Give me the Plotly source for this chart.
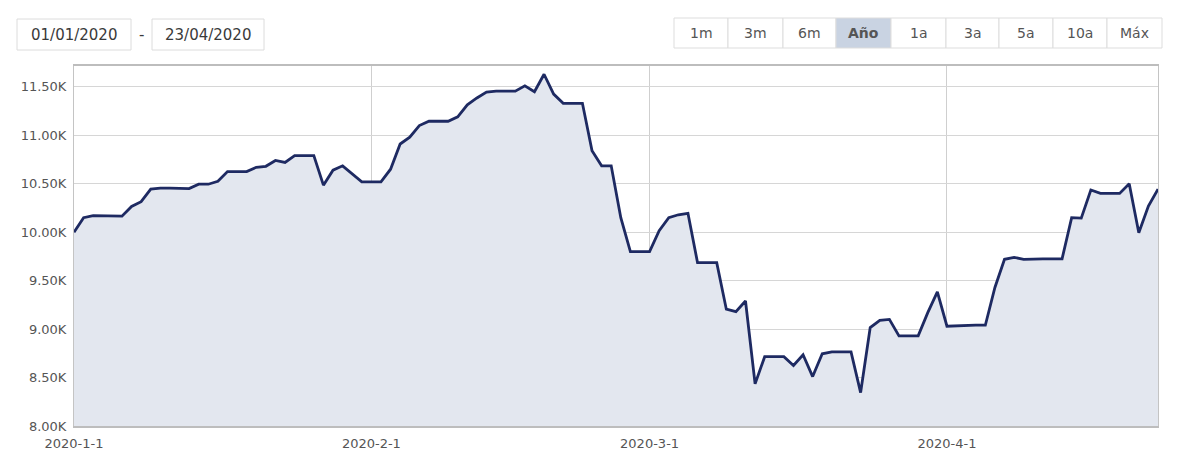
import plotly.graph_objects as go
import pandas as pd

# ---- data (daily values, weekends/holidays repeated) ----
start_date = "2020-01-01"
values = [
    # January (1..31)
    10000, 10150, 10170, 10170, 10170, 10165, 10265, 10315, 10445, 10455,
    10455, 10455, 10450, 10495, 10495, 10525, 10625, 10625, 10625, 10670,
    10680, 10740, 10720, 10790, 10790, 10790, 10485, 10640, 10685, 10600,
    10520,
    # February (1..29)
    10520, 10520, 10650, 10910, 10980, 11100, 11145, 11145, 11145, 11190,
    11315, 11385, 11445, 11455, 11455, 11455, 11510, 11450, 11630, 11425,
    11330, 11330, 11330, 10840, 10685, 10685, 10150, 9800, 9800,
    # March (1..31)
    9800, 10015, 10150, 10180, 10195, 9685, 9685, 9685, 9205, 9180,
    9290, 8435, 8715, 8715, 8715, 8625, 8735, 8510, 8745, 8765,
    8765, 8765, 8345, 9015, 9090, 9100, 8930, 8930, 8930, 9170,
    9385,
    # April (1..23)
    9030, 9035, 9040, 9040, 9040, 9430, 9720, 9740, 9720, 9725,
    9725, 9725, 9725, 10150, 10145, 10435, 10400, 10400, 10400, 10500,
    9995, 10270, 10445,
]
dates = pd.date_range(start_date, periods=len(values), freq="D")

y_tick_vals = [8000, 8500, 9000, 9500, 10000, 10500, 11000, 11500]
y_tick_text = ["8.00K", "8.50K", "9.00K", "9.50K", "10.00K", "10.50K", "11.00K", "11.50K"]
x_tick_vals = ["2020-01-01", "2020-02-01", "2020-03-01", "2020-04-01"]
x_tick_text = ["2020-1-1", "2020-2-1", "2020-3-1", "2020-4-1"]

date_from = "01/01/2020"
date_to = "23/04/2020"
range_buttons = ["1m", "3m", "6m", "Año", "1a", "3a", "5a", "10a", "Máx"]
active_button = "Año"

# ---- layout geometry (pixels) ----
W, H = 1184, 470
L, R, T, B = 74, 26, 66, 44
PW, PH = W - L - R, H - T - B


def px(x):
    return (x - L) / PW


def py(y):
    return (H - B - y) / PH


FONT = "DejaVu Sans"

fig = go.Figure()
fig.add_trace(go.Scatter(
    x=dates, y=values, mode="lines",
    line=dict(color="#1e2a62", width=2.8),
    fill="tozeroy", fillcolor="#e3e7ef",
    hoverinfo="x+y", showlegend=False,
))

shapes = []
annotations = []

# date boxes
for x0, x1, txt in [(17, 131, date_from), (152, 264, date_to)]:
    shapes.append(dict(type="rect", xref="paper", yref="paper",
                       x0=px(x0), x1=px(x1), y0=py(50), y1=py(19),
                       line=dict(color="#dcdcdc", width=1), fillcolor="white"))
    annotations.append(dict(xref="paper", yref="paper", x=px((x0 + x1) / 2), y=py(35),
                            text=txt, showarrow=False, xanchor="center", yanchor="middle",
                            font=dict(family=FONT, size=15, color="#3a3a3a")))
annotations.append(dict(xref="paper", yref="paper", x=px(141), y=py(35), text="-",
                        showarrow=False, xanchor="center", yanchor="middle",
                        font=dict(family=FONT, size=15, color="#3a3a3a")))

# range buttons
edges = [674, 728, 783, 836, 891, 946, 999, 1053, 1107, 1162]
for i, lab in enumerate(range_buttons):
    x0, x1 = edges[i], edges[i + 1]
    active = lab == active_button
    shapes.append(dict(type="rect", xref="paper", yref="paper",
                       x0=px(x0), x1=px(x1), y0=py(48), y1=py(18),
                       line=dict(color="#dddddd", width=1),
                       fillcolor="#c9d3e2" if active else "white"))
    annotations.append(dict(xref="paper", yref="paper", x=px((x0 + x1) / 2), y=py(33),
                            text=f"<b>{lab}</b>" if active else lab, showarrow=False,
                            xanchor="center", yanchor="middle",
                            font=dict(family=FONT, size=14, color="#555555")))

fig.update_layout(
    width=W, height=H,
    margin=dict(l=L, r=R, t=T, b=B),
    paper_bgcolor="white", plot_bgcolor="white",
    shapes=shapes, annotations=annotations,
    xaxis=dict(
        type="date", range=["2020-01-01", "2020-04-23"],
        tickvals=x_tick_vals, ticktext=x_tick_text,
        showgrid=True, gridcolor="#cfcfcf", gridwidth=1,
        showline=True, linecolor="#bdbdbd", linewidth=2, mirror=True,
        ticks="", ticklabelstandoff=4,
        tickfont=dict(family=FONT, size=13, color="#555555"),
        fixedrange=True, zeroline=False,
    ),
    yaxis=dict(
        range=[8000, 11715],
        tickvals=y_tick_vals, ticktext=y_tick_text,
        showgrid=True, gridcolor="#d6d6d6", gridwidth=1,
        showline=True, linecolor="#c4c4c4", linewidth=1, mirror=True,
        ticks="", ticklabelstandoff=4,
        tickfont=dict(family=FONT, size=13, color="#555555"),
        fixedrange=True, zeroline=False,
    ),
    hovermode="x",
)

fig.write_html(
    "out.html",
    config={"displayModeBar": False},
    post_script="document.body.style.margin='0';document.body.style.padding='0';",
)
